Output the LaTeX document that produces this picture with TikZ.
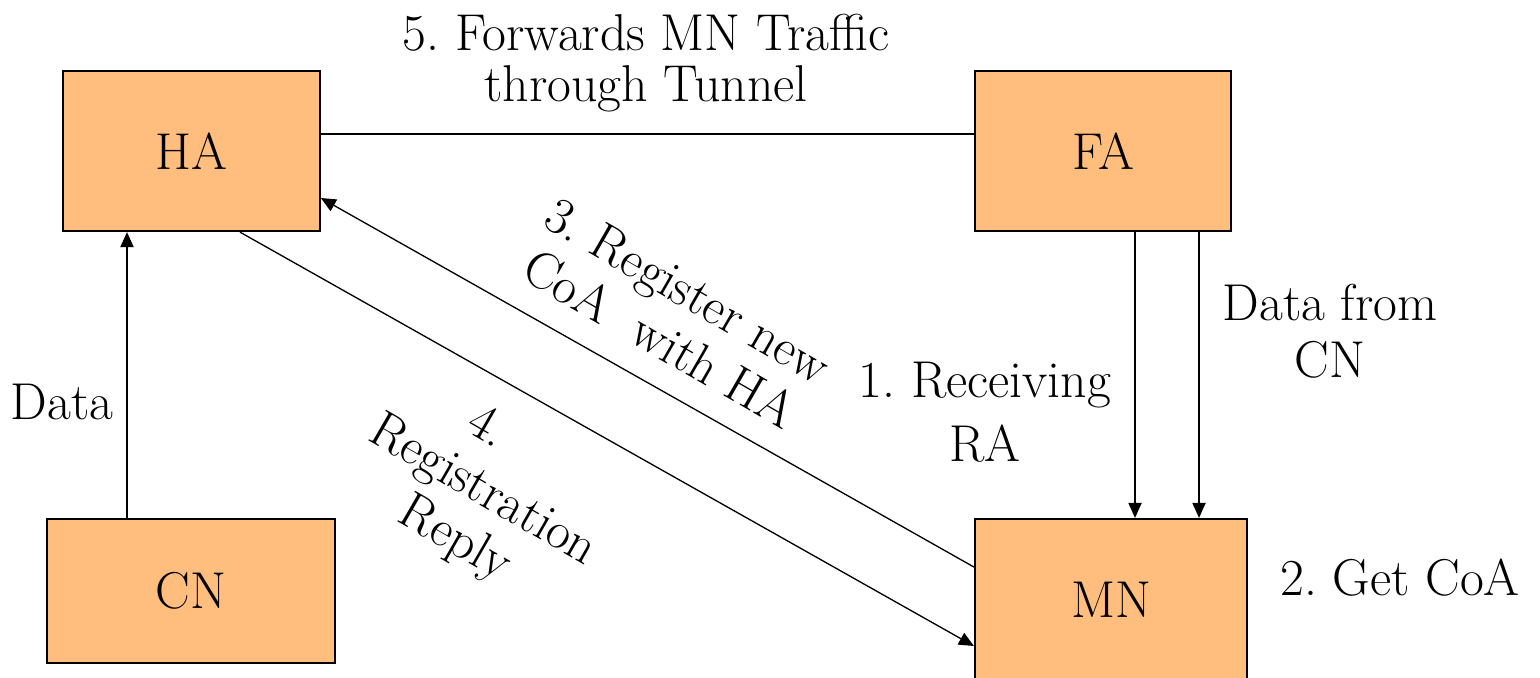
\documentclass[tikz,border=0pt]{standalone}
\usepackage{fontspec}
\frenchspacing
\usetikzlibrary{arrows.meta,calc}
\definecolor{boxfill}{RGB}{255,190,125}
\newcommand\labelfont[1]{\fontsize{29.5}{#1}\selectfont\addfontfeature{FakeBold=0.6}}

\begin{document}
\begin{tikzpicture}[x=0.02cm, y=-0.02cm,
  agent/.style={draw, line width=1.3pt, fill=boxfill, font=\labelfont{33}},
  msg/.style={align=center, inner sep=0pt, font=\labelfont{33}},
  link/.style={line width=0.75pt},
  arr/.style={link, -{Triangle[length=8.5pt,width=7.5pt]}}]
\def\agentwidth{5.13cm}
\def\agentheight{3.2cm}

\useasboundingbox (0,0) rectangle (1540,677);
\clip (0,0) rectangle (1540,677);

\node[agent, minimum width=\agentwidth, minimum height=\agentheight] (ha) at (191.5,151) {HA};
\node[agent, minimum width=\agentwidth, minimum height=\agentheight] (fa) at (1103,151) {FA};
\node[agent, minimum width=5.76cm, minimum height=2.88cm] (cn) at (191,591) {CN};
\node[agent, minimum width=5.44cm, minimum height=3.24cm] (mn) at (1111,600) {MN};

\coordinate (ra) at ($(fa.south)+(32,0)$);
\coordinate (fwd) at ($(fa.south)+(96,0)$);
\coordinate (up) at ($(cn.north)+(-64,0)$);

\draw[link] ($(ha.east)+(0,-17)$) -- ($(fa.west)+(0,-17)$);
\draw[arr] (ra) -- (ra |- mn.north);
\draw[arr] (fwd) -- (fwd |- mn.north);
\draw[arr] (up) -- (up |- ha.south);
\draw[arr] ($(mn.west)+(0,-33)$) -- ($(ha.east)+(0,47)$);
\draw[arr] ($(ha.south)+(48.5,0)$) -- ($(mn.west)+(0,46)$);

\node[msg, font=\labelfont{29}] (tunnel) at (646,63) {5. Forwards MN Traffic\\through Tunnel};
\node[msg] (data) at (62,402) {Data};
\node[msg, font=\labelfont{32.4}] (datacn) at (1330,331) {Data from\\CN};
\node[msg, font=\labelfont{36.4}] (recv) at (985,412) {1. Receiving\\RA};
\node[msg] (getcoa) at (1400,578) {2. Get CoA};
\node[msg, rotate=-30, font=\labelfont{32}] (register) at (674,315) {3. Register new\\CoA\ \ with HA};
\node[msg, rotate=-30, font=\labelfont{32}] (reply) at (482,492) {4.\hspace*{1.1cm}\\Registration\\Reply};
\end{tikzpicture}
\end{document}
